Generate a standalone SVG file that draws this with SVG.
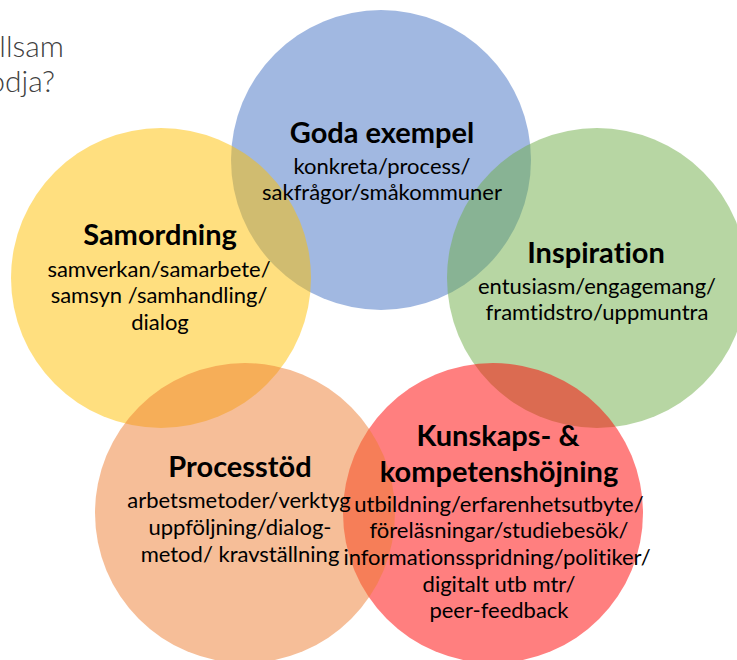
<svg xmlns="http://www.w3.org/2000/svg" width="737" height="660" viewBox="0 0 737 660">
<style>
text{font-variant-ligatures:none}
.c{fill-opacity:0.5;stroke:none}
.t{font-family:Lato,"Liberation Sans",sans-serif;font-weight:bold;font-size:29px;fill:#000;text-anchor:middle}
.b{font-family:Lato,"Liberation Sans",sans-serif;font-size:22px;fill:#000;text-anchor:middle}
.h{font-family:Lato,"Liberation Sans",sans-serif;font-weight:300;font-size:30px;fill:#404040;text-anchor:end}
</style>
<rect width="737" height="660" fill="#fff"/>
<g id="heading">
<text class="h" x="64" y="57">llsam</text>
<text class="h" x="55" y="92">odja?</text>
</g>
<g id="circles">
<circle class="c" cx="381" cy="160" r="150" fill="#4472C4"/>
<circle class="c" cx="161" cy="278" r="150" fill="#FFC000"/>
<circle class="c" cx="597" cy="278" r="150" fill="#70AD47"/>
<circle class="c" cx="493" cy="513" r="150" fill="#FF0000"/>
<circle class="c" cx="245" cy="513" r="150" fill="#ED7D31"/>
</g>
<g id="connectors"></g>
<g id="goda-exempel">
<text class="t" x="382" y="143">Goda exempel</text>
<text class="b" x="382" y="174">konkreta/process/</text>
<text class="b" x="382" y="200">sakfrågor/småkommuner</text>
</g>
<g id="samordning">
<text class="t" x="160" y="245">Samordning</text>
<text class="b" x="159" y="277">samverkan/samarbete/</text>
<text class="b" x="159" y="303">samsyn /samhandling/</text>
<text class="b" x="160" y="330">dialog</text>
</g>
<g id="inspiration">
<text class="t" x="596" y="263">Inspiration</text>
<text class="b" x="597" y="294">entusiasm/engagemang/</text>
<text class="b" x="597" y="320">framtidstro/uppmuntra</text>
</g>
<g id="processtod">
<text class="t" x="240" y="477">Processtöd</text>
<text class="b" x="239" y="508">arbetsmetoder/verktyg</text>
<text class="b" x="240" y="535">uppföljning/dialog-</text>
<text class="b" x="240" y="562">metod/ kravställning</text>
</g>
<g id="kunskaps">
<text class="t" x="498" y="446">Kunskaps- &amp;</text>
<text class="t" x="499" y="482">kompetenshöjning</text>
<text class="b" x="499" y="512">utbildning/erfarenhetsutbyte/</text>
<text class="b" x="499" y="538">föreläsningar/studiebesök/</text>
<text class="b" x="497" y="565">informationsspridning/politiker/</text>
<text class="b" x="499" y="592">digitalt utb mtr/</text>
<text class="b" x="499" y="618">peer-feedback</text>
</g>
</svg>
